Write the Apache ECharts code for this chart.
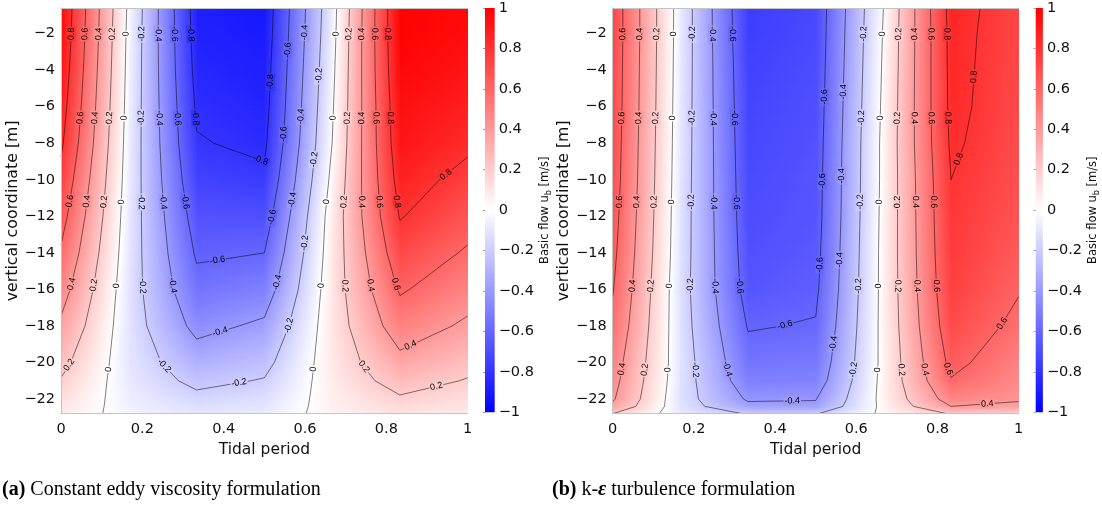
<!DOCTYPE html>
<html>
<head>
<meta charset="utf-8">
<script src="https://cdn.jsdelivr.net/npm/echarts@6/dist/echarts.min.js"></script>
<style>
  html, body { margin: 0; padding: 0; background: #ffffff; }
  #chart { width: 1102px; height: 507px; }
</style>
</head>
<body>
<div id="chart"></div>
<script>
// Tidal phase (fraction of the period) of every stored velocity profile
const tidalPhase = [0, 1 / 6, 2 / 6, 3 / 6, 4 / 6, 5 / 6, 1];
// Vertical coordinate of every profile level [m]
const depthLevels = [-0.6, -2, -4, -6, -8, -10, -12, -14, -16, -18, -20, -21, -22, -22.4, -22.8];

// Basic flow u_b [m/s], one profile (top -> bed) per tidal phase: constant eddy viscosity
const flowConstantEddy = [
  [0.96, 0.95, 0.92, 0.88, 0.83, 0.75, 0.67, 0.58, 0.48, 0.37, 0.25, 0.19, 0.13, 0.105, 0.08],
  [-0.03, -0.04, -0.05, -0.06, -0.07, -0.08, -0.09, -0.10, -0.11, -0.11, -0.10, -0.09, -0.07, -0.06, -0.05],
  [-0.88, -0.87, -0.85, -0.82, -0.79, -0.74, -0.68, -0.62, -0.55, -0.45, -0.31, -0.24, -0.16, -0.13, -0.10],
  [-0.91, -0.90, -0.88, -0.86, -0.83, -0.77, -0.69, -0.60, -0.50, -0.37, -0.25, -0.19, -0.13, -0.105, -0.08],
  [-0.07, -0.06, -0.04, -0.02, 0.00, 0.04, 0.08, 0.09, 0.10, 0.10, 0.09, 0.08, 0.065, 0.057, 0.05],
  [0.99, 0.99, 0.97, 0.94, 0.92, 0.87, 0.81, 0.72, 0.62, 0.50, 0.35, 0.27, 0.18, 0.145, 0.11],
  [0.96, 0.95, 0.92, 0.88, 0.83, 0.75, 0.67, 0.58, 0.48, 0.37, 0.25, 0.19, 0.13, 0.105, 0.08]
];

// Basic flow u_b [m/s], one profile (top -> bed) per tidal phase: k-epsilon turbulence model
const flowKEpsilon = [
  [0.72, 0.72, 0.715, 0.71, 0.70, 0.69, 0.67, 0.645, 0.61, 0.56, 0.49, 0.46, 0.42, 0.36, 0.20],
  [-0.08, -0.08, -0.085, -0.09, -0.094, -0.10, -0.105, -0.11, -0.12, -0.115, -0.105, -0.11, -0.12, -0.11, -0.09],
  [-0.76, -0.755, -0.74, -0.73, -0.72, -0.71, -0.70, -0.685, -0.665, -0.61, -0.545, -0.50, -0.42, -0.36, -0.21],
  [-0.715, -0.71, -0.70, -0.69, -0.68, -0.67, -0.665, -0.65, -0.63, -0.59, -0.53, -0.49, -0.41, -0.36, -0.21],
  [0.00, 0.01, 0.02, 0.03, 0.04, 0.04, 0.045, 0.05, 0.05, 0.05, 0.045, 0.05, 0.05, 0.04, 0.03],
  [0.86, 0.85, 0.845, 0.84, 0.825, 0.80, 0.785, 0.77, 0.75, 0.71, 0.645, 0.59, 0.48, 0.40, 0.21],
  [0.72, 0.72, 0.715, 0.71, 0.70, 0.69, 0.67, 0.645, 0.61, 0.56, 0.49, 0.46, 0.42, 0.36, 0.20]
];

// Iso-velocity levels that get a contour line
const contourLevels = [-0.8, -0.6, -0.4, -0.2, 0, 0.2, 0.4, 0.6, 0.8];
// Tick values
const phaseTicks = [0, 0.2, 0.4, 0.6, 0.8, 1];
const depthTicks = [-2, -4, -6, -8, -10, -12, -14, -16, -18, -20, -22];
const colorbarRange = [-1, 1];

const captionA = ['(a)', ' Constant eddy viscosity formulation'];
const captionB = ['(b)', ' k-', '\u03b5', ' turbulence formulation'];

// ---------- layout & style ----------
const PANELS = [
  { field: flowConstantEddy,
    plot: { left: 61, top: 8, width: 406.7, height: 405.7 },
    bar: { left: 485, top: 8, width: 9.7, height: 404.3 } },
  { field: flowKEpsilon,
    plot: { left: 612.7, top: 8, width: 406, height: 405.7 },
    bar: { left: 1035.7, top: 8, width: 9, height: 404.3 } }
];
const FRAME = '#c4c4c4';
const AXIS_FONT = '"DejaVu Sans", Verdana, sans-serif';
const LABEL_FONT = '"Liberation Sans", Arial, sans-serif';
const SERIF = '"Liberation Serif", "Times New Roman", serif';

// blue - white - red colour scale on [-1, 1]
function flowColor(u) {
  u = Math.max(-1, Math.min(1, u));
  if (u < 0) { const k = Math.round(255 * (1 + u)); return 'rgb(' + k + ',' + k + ',255)'; }
  const k = Math.round(255 * (1 - u)); return 'rgb(255,' + k + ',' + k + ')';
}
function tickText(v) {
  const r = Math.round(v * 10) / 10;
  return String(r).replace('-', '\u2212');
}
function levelText(v) {
  return v === 0 ? '0' : v.toFixed(1);
}

// ---------- contour tracing (marching squares on the profile grid) ----------
function traceContours(phases, depths, cols, level) {
  const segs = [];
  const val = (i, j) => cols[i][j];
  const key = (a, b) => {
    const s = [a, b].sort((p, q) => (p[0] - q[0]) || (p[1] - q[1]));
    return s[0].join(',') + '|' + s[1].join(',');
  };
  const cross = (a, b) => {
    const va = val(a[0], a[1]), vb = val(b[0], b[1]);
    const f = (level - va) / (vb - va);
    return [phases[a[0]] + f * (phases[b[0]] - phases[a[0]]),
            depths[a[1]] + f * (depths[b[1]] - depths[a[1]])];
  };
  for (let i = 0; i < phases.length - 1; i++) {
    for (let j = 0; j < depths.length - 1; j++) {
      const c = [[i, j], [i + 1, j], [i + 1, j + 1], [i, j + 1]];
      const up = c.map(p => val(p[0], p[1]) >= level);
      const e = [];
      for (let k = 0; k < 4; k++) {
        const a = c[k], b = c[(k + 1) % 4];
        e.push(up[k] !== up[(k + 1) % 4] ? { key: key(a, b), pt: cross(a, b) } : null);
      }
      const hits = e.filter(Boolean);
      if (hits.length === 2) {
        segs.push(hits);
      } else if (hits.length === 4) {
        const mean = (val(i, j) + val(i + 1, j) + val(i + 1, j + 1) + val(i, j + 1)) / 4;
        if ((mean >= level) === up[0]) { segs.push([e[0], e[1]]); segs.push([e[2], e[3]]); }
        else { segs.push([e[3], e[0]]); segs.push([e[1], e[2]]); }
      }
    }
  }
  const adj = new Map();
  segs.forEach((s, idx) => s.forEach((end, k) => {
    if (!adj.has(end.key)) adj.set(end.key, []);
    adj.get(end.key).push({ idx, k });
  }));
  const used = segs.map(() => false);
  const walk = (startKey) => {
    const pts = [];
    let k = startKey;
    for (;;) {
      const next = (adj.get(k) || []).find(o => !used[o.idx]);
      if (!next) break;
      used[next.idx] = true;
      const other = segs[next.idx][1 - next.k];
      pts.push(other.pt);
      k = other.key;
    }
    return pts;
  };
  const lines = [];
  segs.forEach((s, idx) => {
    if (used[idx]) return;
    used[idx] = true;
    const fwd = walk(s[1].key);
    const back = walk(s[0].key).reverse();
    let line = back.concat([s[0].pt, s[1].pt], fwd);
    if (line[0][1] < line[line.length - 1][1]) line = line.reverse();
    lines.push(line);
  });
  return lines;
}

// label anchor points spaced along a contour (spacing in screen pixels)
function labelSpots(line, level, plot, zMin, zMax) {
  const px = line.map(p => [p[0] * plot.width, (zMax - p[1]) / (zMax - zMin) * plot.height]);
  const cum = [0];
  for (let k = 1; k < px.length; k++) {
    cum.push(cum[k - 1] + Math.hypot(px[k][0] - px[k - 1][0], px[k][1] - px[k - 1][1]));
  }
  const total = cum[cum.length - 1];
  const at = [];
  if (total < 44) { if (total > 22) at.push(total / 2); }
  else for (let s = 26; s < total - 14; s += 84) at.push(s);
  const out = [];
  at.forEach(s => {
    let k = 0;
    while (k < cum.length - 2 && cum[k + 1] < s) k++;
    const segLen = cum[k + 1] - cum[k] || 1;
    const f = (s - cum[k]) / segLen;
    const a = line[k], b = line[k + 1];
    const x = px[k][0] + f * (px[k + 1][0] - px[k][0]);
    if (x < 5 || x > plot.width - 5) return;
    out.push([a[0] + f * (b[0] - a[0]), a[1] + f * (b[1] - a[1]), b[0] - a[0], b[1] - a[1], level]);
  });
  return out;
}

// ---------- option ----------
const zMin = depthLevels[depthLevels.length - 1];
const zMax = depthLevels[0];
const grid = [], xAxis = [], yAxis = [], series = [];

const axisLabelStyle = { color: '#111', fontFamily: AXIS_FONT, fontSize: 14.5 };

PANELS.forEach((panel) => {
  const gPlot = grid.length;
  grid.push(Object.assign({ show: false }, panel.plot));
  const gBar = grid.length;
  grid.push(Object.assign({ show: false }, panel.bar));

  const xMain = xAxis.length;
  xAxis.push({
    gridIndex: gPlot, type: 'value', min: 0, max: 1, interval: 0.2, position: 'bottom', z: 10,
    name: 'Tidal period', nameLocation: 'middle', nameGap: 26,
    nameTextStyle: { color: '#111', fontFamily: AXIS_FONT, fontSize: 15.5 },
    axisLine: { show: true, lineStyle: { color: FRAME, width: 1 } },
    axisTick: { show: false }, splitLine: { show: false },
    axisLabel: Object.assign({ margin: 8, formatter: tickText, customValues: phaseTicks }, axisLabelStyle)
  });
  xAxis.push({
    gridIndex: gPlot, type: 'value', min: 0, max: 1, position: 'top', z: 10,
    axisLine: { show: true, lineStyle: { color: FRAME, width: 1 } },
    axisTick: { show: false }, axisLabel: { show: false }, splitLine: { show: false }
  });
  const yMain = yAxis.length;
  yAxis.push({
    gridIndex: gPlot, type: 'value', min: zMin, max: zMax, position: 'left', z: 10,
    name: 'vertical coordinate [m]', nameLocation: 'middle', nameGap: 28,
    nameTextStyle: { color: '#111', fontFamily: AXIS_FONT, fontSize: 15.8 },
    axisLine: { show: true, lineStyle: { color: FRAME, width: 1 } },
    axisTick: { show: false }, splitLine: { show: false },
    axisLabel: Object.assign({ margin: 6, formatter: tickText, customValues: depthTicks }, axisLabelStyle)
  });
  yAxis.push({
    gridIndex: gPlot, type: 'value', min: zMin, max: zMax, position: 'right', z: 10,
    axisLine: { show: true, lineStyle: { color: FRAME, width: 1 } },
    axisTick: { show: false }, axisLabel: { show: false }, splitLine: { show: false }
  });

  const xBar = xAxis.length;
  xAxis.push({ gridIndex: gBar, type: 'value', min: 0, max: 1, show: false });
  const yBar = yAxis.length;
  yAxis.push({
    gridIndex: gBar, type: 'value', min: colorbarRange[0], max: colorbarRange[1], interval: 0.2,
    position: 'right', z: 10,
    name: '{n|Basic flow u}{s|b}{n| [m/s]}', nameLocation: 'middle', nameGap: 38, nameRotate: 90,
    nameTextStyle: {
      color: '#111', fontFamily: AXIS_FONT, fontSize: 11.5,
      rich: {
        n: { fontFamily: AXIS_FONT, fontSize: 11.5, color: '#111', lineHeight: 14 },
        s: { fontFamily: AXIS_FONT, fontSize: 8, color: '#111', lineHeight: 14, padding: [7, 0, 0, 0] }
      }
    },
    axisLine: { show: false },
    axisTick: { show: true, inside: true, length: 2, lineStyle: { color: '#9a9a9a', width: 1 } },
    splitLine: { show: false },
    axisLabel: Object.assign({ margin: 4, formatter: tickText }, axisLabelStyle)
  });

  // smooth shaded velocity field: every grid cell is painted with a bilinear colour ramp,
  // one pixel row at a time
  const cells = [];
  const f = panel.field;
  for (let i = 0; i < tidalPhase.length - 1; i++) {
    for (let j = 0; j < depthLevels.length - 1; j++) {
      cells.push([tidalPhase[i], depthLevels[j], tidalPhase[i + 1], depthLevels[j + 1],
                  f[i][j], f[i + 1][j], f[i][j + 1], f[i + 1][j + 1]]);
    }
  }
  series.push({
    type: 'custom', xAxisIndex: xMain, yAxisIndex: yMain, z: 1, silent: true, clip: true,
    encode: { x: [0, 2], y: [1, 3] },
    data: cells,
    renderItem: (params, api) => {
      const p0 = api.coord([api.value(0), api.value(1)]);
      const p1 = api.coord([api.value(2), api.value(3)]);
      const uTL = api.value(4), uTR = api.value(5), uBL = api.value(6), uBR = api.value(7);
      const h = p1[1] - p0[1];
      const xa = Math.round(p0[0]), xb = Math.round(p1[0]);
      const ya = Math.round(p0[1]), yb = Math.round(p1[1]);
      const children = [];
      for (let y = ya; y < yb; y++) {
        const s = Math.max(0, Math.min(1, (y + 0.5 - p0[1]) / h));
        const uL = uTL + s * (uBL - uTL), uR = uTR + s * (uBR - uTR);
        const stops = [{ offset: 0, color: flowColor(uL) }];
        if (uL * uR < 0) stops.push({ offset: uL / (uL - uR), color: flowColor(0) });
        stops.push({ offset: 1, color: flowColor(uR) });
        children.push({
          type: 'rect', silent: true,
          shape: { x: xa, y: y, width: xb - xa + 1, height: 1 },
          style: { fill: new echarts.graphic.LinearGradient(0, 0, 1, 0, stops) }
        });
      }
      return { type: 'group', children };
    }
  });

  // contour lines and their labels
  const spots = [];
  contourLevels.forEach(level => {
    traceContours(tidalPhase, depthLevels, f, level).forEach(line => {
      series.push({
        type: 'line', xAxisIndex: xMain, yAxisIndex: yMain, z: 3, silent: true,
        data: line, symbol: 'none', showSymbol: false, clip: true,
        lineStyle: { color: '#000', width: 0.7, opacity: 0.72 }
      });
      labelSpots(line, level, panel.plot, zMin, zMax).forEach(s => spots.push(s));
    });
  });
  series.push({
    type: 'custom', xAxisIndex: xMain, yAxisIndex: yMain, z: 4, silent: true, clip: false,
    encode: { x: 0, y: 1 },
    data: spots,
    renderItem: (params, api) => {
      const t = api.value(0), z = api.value(1);
      const p = api.coord([t, z]);
      const q = api.coord([t + api.value(2), z + api.value(3)]);
      let ang = Math.atan2(q[1] - p[1], q[0] - p[0]);
      if (ang > Math.PI / 2) ang -= Math.PI;
      if (ang < -Math.PI / 2) ang += Math.PI;
      const lv = api.value(4);
      return {
        type: 'text', x: p[0], y: p[1], rotation: -ang,
        style: {
          text: levelText(lv), fill: '#000', fontSize: 9, fontFamily: LABEL_FONT,
          align: 'center', verticalAlign: 'middle',
          backgroundColor: flowColor(lv), padding: [0, 1]
        }
      };
    }
  });

  // colour bar
  series.push({
    type: 'custom', xAxisIndex: xBar, yAxisIndex: yBar, z: 1, silent: true,
    encode: { x: [0, 1], y: [2, 3] },
    data: [[0, 1, colorbarRange[0], colorbarRange[1]]],
    renderItem: (params, api) => {
      const lo = api.value(2), hi = api.value(3);
      const pLo = api.coord([api.value(0), lo]);
      const pHi = api.coord([api.value(1), hi]);
      return {
        type: 'rect',
        shape: { x: pLo[0], y: pHi[1], width: pHi[0] - pLo[0], height: pLo[1] - pHi[1] },
        style: {
          fill: new echarts.graphic.LinearGradient(0, 0, 0, 1, [
            { offset: 0, color: flowColor(hi) },
            { offset: (hi - 0) / (hi - lo), color: flowColor(0) },
            { offset: 1, color: flowColor(lo) }
          ])
        }
      };
    }
  });
});

const captionRich = {
  p: { fontFamily: SERIF, fontSize: 20, color: '#111' },
  b: { fontFamily: SERIF, fontSize: 20, color: '#111', fontWeight: 'bold' },
  e: { fontFamily: SERIF, fontSize: 20, color: '#111', fontStyle: 'italic', fontWeight: 'bold' }
};

const chart = echarts.init(document.getElementById('chart'), null, { renderer: 'canvas' });
chart.setOption({
  animation: false,
  backgroundColor: '#ffffff',
  grid, xAxis, yAxis, series,
  graphic: [
    { type: 'text', left: 2, top: 480,
      style: { text: '{b|' + captionA[0] + '}{p|' + captionA[1] + '}', rich: captionRich } },
    { type: 'text', left: 552, top: 480,
      style: { text: '{b|' + captionB[0] + '}{p|' + captionB[1] + '}{e|' + captionB[2] + '}{p|' + captionB[3] + '}', rich: captionRich } }
  ]
});
</script>
</body>
</html>
